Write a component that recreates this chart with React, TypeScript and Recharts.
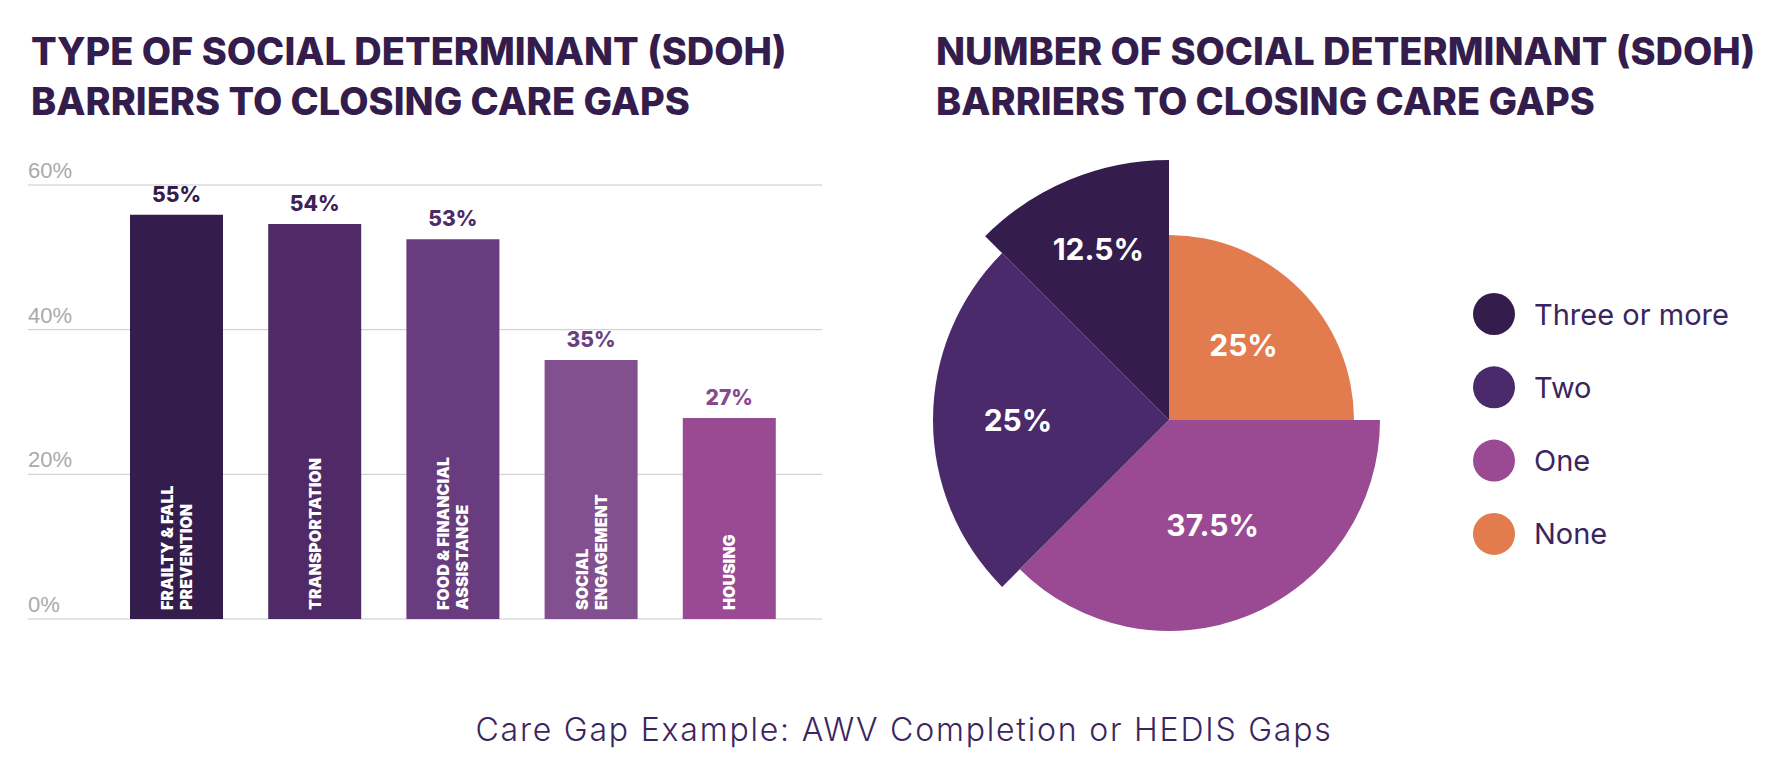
import React from "react";
import {
  BarChart,
  Bar,
  XAxis,
  YAxis,
  CartesianGrid,
  LabelList,
  Cell,
  PieChart,
  Pie,
  Legend,
} from "recharts";

// left chart: type of SDOH barrier
const barCategories = [
  ["FRAILTY & FALL", "PREVENTION"],
  ["TRANSPORTATION"],
  ["FOOD & FINANCIAL", "ASSISTANCE"],
  ["SOCIAL", "ENGAGEMENT"],
  ["HOUSING"],
];
const barValues = [55.9, 54.6, 52.5, 35.8, 27.8];
const barLabels = ["55%", "54%", "53%", "35%", "27%"];
const yTicks = [0, 20, 40, 60];

// right chart: number of SDOH barriers
const pieNames = ["None", "One", "Two", "Three or more"];
const pieValues = [25, 37.5, 25, 12.5];
const pieLabels = ["25%", "37.5%", "25%", "12.5%"];

const barColors = ["#341d4d", "#4f2a67", "#683c7e", "#82508e", "#9a4a93"];
const barLabelColors = ["#341d4d", "#3d2259", "#4d2b68", "#6a3f82", "#86488f"];
const pieColors = ["#e27b4e", "#9a4a92", "#4a2a6a", "#341d4d"];
const pieRadius = [185, 211, 236, 260]; // each slice pulled to its own radius
const pieLabelAt = [0.57, 0.54, 0.64, 0.71];

const INK = "#341d4d";
const TEXT = "#3b2560";
const PLOT_LEFT = 28;

const barData = barCategories.map((lines, i) => ({
  name: lines.join(" "),
  lines,
  value: barValues[i],
  label: barLabels[i],
}));

const pieData = pieNames.map((name, i) => ({ name, value: pieValues[i] }));

const titleStyle: React.CSSProperties = {
  position: "absolute",
  top: 26,
  fontFamily: "Inter, sans-serif",
  fontWeight: 800,
  fontSize: 38,
  lineHeight: "50px",
  color: INK,
  whiteSpace: "nowrap",
};

function YTick({ y, payload }: any) {
  return (
    <text x={PLOT_LEFT} y={y - 7} fill="#aaaaaa" fontSize={22} fontFamily="'Liberation Sans', Arial, sans-serif">
      {payload.value}%
    </text>
  );
}

function TopLabel({ x, y, width, index }: any) {
  return (
    <text
      x={x + width / 2}
      y={y - 13}
      textAnchor="middle"
      fill={barLabelColors[index]}
      fontSize={21}
      fontWeight={800}
      fontFamily="Inter, sans-serif"
    >
      {barData[index].label}
    </text>
  );
}

function InsideLabel({ x, y, width, height, index }: any) {
  const lines = barData[index].lines;
  const step = 19;
  const cx = x + width / 2;
  const bottom = y + height - 9;
  return (
    <g>
      {lines.map((t: string, i: number) => {
        const lx = cx - ((lines.length - 1) * step) / 2 + i * step;
        return (
          <text
            key={i}
            x={lx}
            y={bottom}
            transform={`rotate(-90 ${lx} ${bottom})`}
            fill="#fff"
            fontSize={16}
            fontWeight={900}
            fontFamily="Inter, sans-serif"
            dominantBaseline="central"
          >
            {t}
          </text>
        );
      })}
    </g>
  );
}

function sliceLabel(k: number) {
  return (props: any) => {
    if (props.index !== k) return null;
    const RAD = Math.PI / 180;
    const r = props.outerRadius * pieLabelAt[k];
    const x = props.cx + r * Math.cos(-props.midAngle * RAD);
    const y = props.cy + r * Math.sin(-props.midAngle * RAD);
    return (
      <text
        x={x}
        y={y}
        textAnchor="middle"
        dominantBaseline="central"
        fill="#fff"
        fontSize={30}
        fontWeight={700}
        fontFamily="Inter, sans-serif"
      >
        {pieLabels[k]}
      </text>
    );
  };
}

function PieLegend() {
  const order = [...pieNames.keys()].reverse();
  return (
    <svg width={280} height={300}>
      {order.map((k, row) => (
        <g key={k}>
          <circle cx={21} cy={21 + row * 73.3} r={21} fill={pieColors[k]} />
          <text
            x={61}
            y={21 + row * 73.3}
            dominantBaseline="central"
            fill={TEXT}
            fontSize={29}
            fontFamily="Inter, sans-serif"
          >
            {pieNames[k]}
          </text>
        </g>
      ))}
    </svg>
  );
}

export default function App() {
  return (
    <div style={{ position: "absolute", left: 0, top: 0, width: 1790, height: 768, background: "#fff" }}>
      <div style={{ ...titleStyle, left: 31 }}>
        TYPE OF SOCIAL DETERMINANT (SDOH)
        <br />
        BARRIERS TO CLOSING CARE GAPS
      </div>
      <div style={{ ...titleStyle, left: 936 }}>
        NUMBER OF SOCIAL DETERMINANT (SDOH)
        <br />
        BARRIERS TO CLOSING CARE GAPS
      </div>

      <div style={{ position: "absolute", left: 0, top: 0 }}>
        <BarChart width={900} height={640} data={barData} margin={{ top: 185, right: 78, bottom: 21, left: PLOT_LEFT - 1 }}>
          <CartesianGrid vertical={false} stroke="#c9c9c9" />
          <XAxis dataKey="name" hide padding={{ left: 79, right: 24 }} />
          <YAxis
            width={1}
            domain={[0, 60]}
            ticks={yTicks}
            axisLine={false}
            tickLine={false}
            tick={<YTick />}
          />
          <Bar dataKey="value" barSize={93} isAnimationActive={false}>
            {barData.map((_, i) => (
              <Cell key={i} fill={barColors[i]} />
            ))}
            <LabelList dataKey="value" content={<TopLabel />} />
            <LabelList dataKey="value" content={<InsideLabel />} />
          </Bar>
        </BarChart>
      </div>

      <div style={{ position: "absolute", left: 890, top: 0 }}>
        <PieChart width={900} height={680} margin={{ top: 0, right: 0, bottom: 0, left: 0 }}>
          {pieRadius.map((r, k) => (
            <Pie
              key={k}
              data={pieData}
              dataKey="value"
              nameKey="name"
              cx={279}
              cy={420}
              innerRadius={0}
              outerRadius={r}
              startAngle={90}
              endAngle={-270}
              stroke="none"
              labelLine={false}
              label={sliceLabel(k)}
              isAnimationActive={false}
            >
              {pieData.map((_, i) => (
                <Cell key={i} fill={i === k ? pieColors[i] : "transparent"} />
              ))}
            </Pie>
          ))}
          <Legend
            layout="vertical"
            align="right"
            verticalAlign="top"
            content={<PieLegend />}
            wrapperStyle={{ left: 583, top: 293, width: 280, right: "auto" }}
          />
        </PieChart>
      </div>

      <div
        style={{
          position: "absolute",
          left: 0,
          width: 1808,
          top: 710,
          textAlign: "center",
          fontFamily: "Inter, sans-serif",
          fontWeight: 300,
          fontSize: 32,
          letterSpacing: 1.8,
          color: TEXT,
          whiteSpace: "nowrap",
        }}
      >
        Care Gap Example: AWV Completion or HEDIS Gaps
      </div>
    </div>
  );
}
